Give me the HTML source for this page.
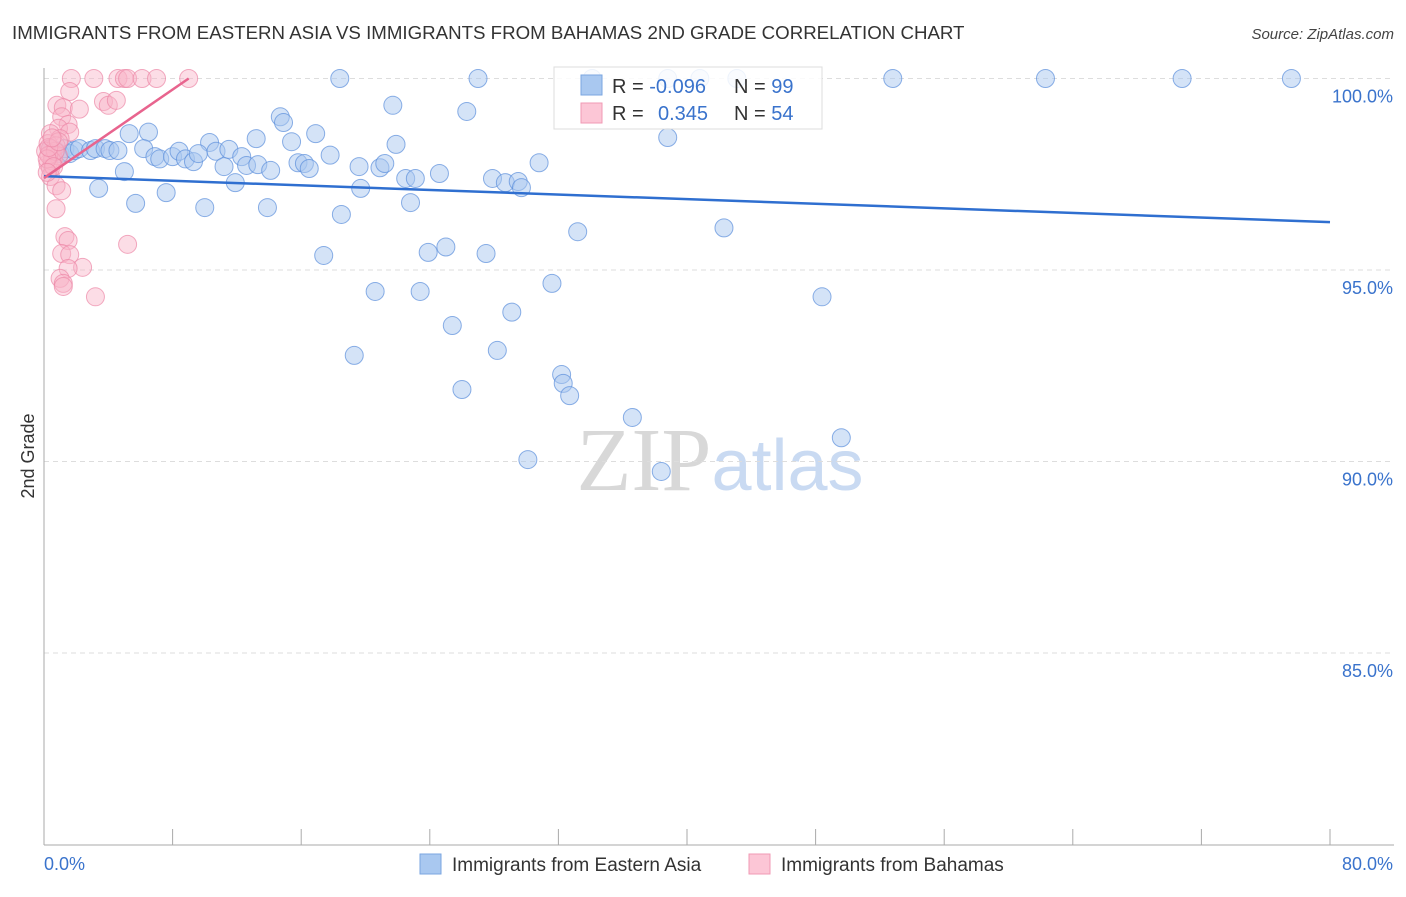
<!DOCTYPE html>
<html><head><meta charset="utf-8"><style>
body{margin:0;background:#fff;font-family:"Liberation Sans",sans-serif}
svg text{font-family:"Liberation Sans",sans-serif}
</style></head><body>
<svg id="chart" width="1406" height="892" xmlns="http://www.w3.org/2000/svg">
<text x="12" y="39" font-size="18.7" fill="#333">IMMIGRANTS FROM EASTERN ASIA VS IMMIGRANTS FROM BAHAMAS 2ND GRADE CORRELATION CHART</text>
<text x="1394" y="39" font-size="15" fill="#444" text-anchor="end" font-style="italic">Source: ZipAtlas.com</text>
<text x="720" y="490" font-size="90" text-anchor="middle"><tspan fill="#d8d8d8" font-family="Liberation Serif">ZIP</tspan><tspan fill="#c9daf2" font-size="72">atlas</tspan></text>
<g id="grid"></g><g id="axes"></g><g id="pts"></g><g id="trends"></g>
<text transform="translate(34,456) rotate(-90)" font-size="18" fill="#333" text-anchor="middle">2nd Grade</text>
<g>
<rect x="554" y="67" width="268" height="62" fill="#fff" fill-opacity="0.85" stroke="#ddd"/>
<rect x="581" y="75" width="21" height="20" fill="#a9c8f0" stroke="#7aa6e0"/>
<rect x="581" y="103" width="21" height="20" fill="#fcc6d6" stroke="#f09ab4"/>
<text x="612" y="93" font-size="20" fill="#333">R = <tspan fill="#3a73cc">-0.096</tspan></text>
<text x="734" y="93" font-size="20" fill="#333">N = <tspan fill="#3a73cc">99</tspan></text>
<text x="612" y="120" font-size="20" fill="#333">R = <tspan fill="#3a73cc" x="658">0.345</tspan></text>
<text x="734" y="120" font-size="20" fill="#333">N = <tspan fill="#3a73cc">54</tspan></text>
</g>
<g>
<rect x="420" y="854" width="21" height="20" fill="#a9c8f0" stroke="#7aa6e0"/>
<text x="452" y="871" font-size="19" fill="#333">Immigrants from Eastern Asia</text>
<rect x="749" y="854" width="21" height="20" fill="#fcc6d6" stroke="#f09ab4"/>
<text x="781" y="871" font-size="19" fill="#333">Immigrants from Bahamas</text>
</g>
</svg>
<script>
const xTicks=[0,8,16,24,32,40,48,56,64,72,80];
const yTicks=[85,90,95,100];
const yTickLabels=["85.0%","90.0%","95.0%","100.0%"];
const blueX=[18.4,27.0,34.1,38.8,40.8,43.1,52.8,62.3,70.8,77.6,21.7,26.3,14.7,14.9,5.3,6.5,13.2,16.9,38.8,21.9,10.3,15.4,0.4,0.7,1.0,1.3,1.6,1.9,2.2,2.9,3.2,3.8,4.1,4.6,6.2,6.9,7.2,8.0,8.4,8.8,9.3,9.6,10.7,11.2,11.5,12.3,12.6,13.3,14.1,11.9,15.8,16.2,16.5,17.8,19.6,19.7,20.9,21.2,22.5,23.1,24.6,27.9,28.7,29.5,29.7,30.8,5.0,3.4,5.7,7.6,10.0,13.9,18.5,22.8,33.2,42.3,17.4,23.9,25.0,27.5,20.6,23.4,31.6,48.4,25.4,29.1,19.3,28.2,32.2,32.3,32.7,26.0,36.6,49.6,30.1,38.4];
const blueY=[100,100,100,100,100,100,100,100,100,100,99.3,99.14,99.0,98.85,98.56,98.6,98.43,98.56,98.46,98.28,98.33,98.35,98.17,98.12,98.04,98.17,98.04,98.12,98.17,98.12,98.17,98.17,98.12,98.12,98.17,97.96,97.9,97.96,98.1,97.9,97.83,98.04,98.1,97.7,98.15,97.96,97.73,97.75,97.6,97.28,97.8,97.78,97.65,98.0,97.7,97.13,97.67,97.78,97.39,97.39,97.52,97.39,97.28,97.31,97.15,97.8,97.57,97.13,96.74,97.02,96.63,96.63,96.45,96.76,96.0,96.1,95.38,95.46,95.6,95.43,94.44,94.44,94.65,94.3,93.55,93.9,92.77,92.9,92.27,92.04,91.72,91.88,91.15,90.62,90.05,89.74];
const pinkX=[1.7,3.1,4.6,5.0,5.2,6.1,7.0,9.0,1.6,3.7,4.0,4.5,0.8,1.2,2.2,1.1,1.5,0.9,1.6,0.4,1.0,0.25,0.4,0.5,0.6,0.25,0.4,0.75,0.9,0.1,0.5,0.3,0.7,0.2,0.4,0.75,1.1,0.75,1.3,1.5,1.1,1.6,2.4,1.5,5.2,1.0,1.2,1.2,3.2,0.3,0.6,0.9,0.2,0.5];
const pinkY=[100,100,100,100,100,100,100,100,99.66,99.4,99.3,99.43,99.3,99.24,99.2,99.0,98.8,98.7,98.6,98.56,98.43,98.3,98.17,98.04,97.91,97.78,97.65,98.24,97.98,98.1,97.85,98.0,98.1,97.9,97.44,97.2,97.07,96.6,95.87,95.77,95.43,95.4,95.07,95.04,95.67,94.78,94.65,94.57,94.3,98.2,97.7,98.35,97.55,98.45];
const blueTrendX=[0,80], blueTrendY=[97.45,96.25];
const pinkTrendX=[0,9], pinkTrendY=[97.4,100];
const sx=v=>44+v*(1286/80);
const sy=v=>844.5-(v-80)*38.3;
const NS="http://www.w3.org/2000/svg";
function mk(tag,attrs,parent){const e=document.createElementNS(NS,tag);for(const k in attrs)e.setAttribute(k,attrs[k]);document.getElementById(parent).appendChild(e);return e;}
yTicks.forEach((t,i)=>{
 const g=mk('line',{x1:44,x2:1394,y1:sy(t),y2:sy(t),stroke:'#ddd','stroke-dasharray':'5,4'},'grid');
 
 
 const l=mk('text',{x:1393,y:sy(t)+24,'font-size':18,fill:'#3a73cc','text-anchor':'end'},'axes');
 l.textContent=yTickLabels[i];
 
 
});
const ax=mk('line',{x1:44,x2:44,y1:68,y2:845,stroke:'#aaa'},'axes');


const bx=mk('line',{x1:44,x2:1394,y1:845,y2:845,stroke:'#aaa'},'axes');


xTicks.forEach(t=>{
 const e=mk('line',{x1:sx(t),x2:sx(t),y1:829,y2:845,stroke:'#aaa'},'axes');
 
 
});
[[0,'0.0%','start',44],[80,'80.0%','end',1393]].forEach(a=>{
 const e=mk('text',{x:a[3],y:870,'font-size':18,fill:'#3a73cc','text-anchor':a[2]},'axes');
 e.textContent=a[1];
 
 
});
blueX.forEach((x,i)=>{
 const c=mk('circle',{cx:sx(x),cy:sy(blueY[i]),r:9,fill:'#a9c8f0','fill-opacity':0.5,stroke:'#5b8fdc','stroke-opacity':0.7},'pts');
 
 
});
pinkX.forEach((x,i)=>{
 const c=mk('circle',{cx:sx(x),cy:sy(pinkY[i]),r:9,fill:'#f8b4c8','fill-opacity':0.45,stroke:'#ec87a6','stroke-opacity':0.7},'pts');
 
 
});
const bt=mk('line',{x1:sx(blueTrendX[0]),y1:sy(blueTrendY[0]),x2:sx(blueTrendX[1]),y2:sy(blueTrendY[1]),stroke:'#2f6fd0','stroke-width':2.5},'trends');


const pt=mk('line',{x1:sx(pinkTrendX[0]),y1:sy(pinkTrendY[0]),x2:sx(pinkTrendX[1]),y2:sy(pinkTrendY[1]),stroke:'#e8648e','stroke-width':2.5},'trends');


</script>
</body></html>
